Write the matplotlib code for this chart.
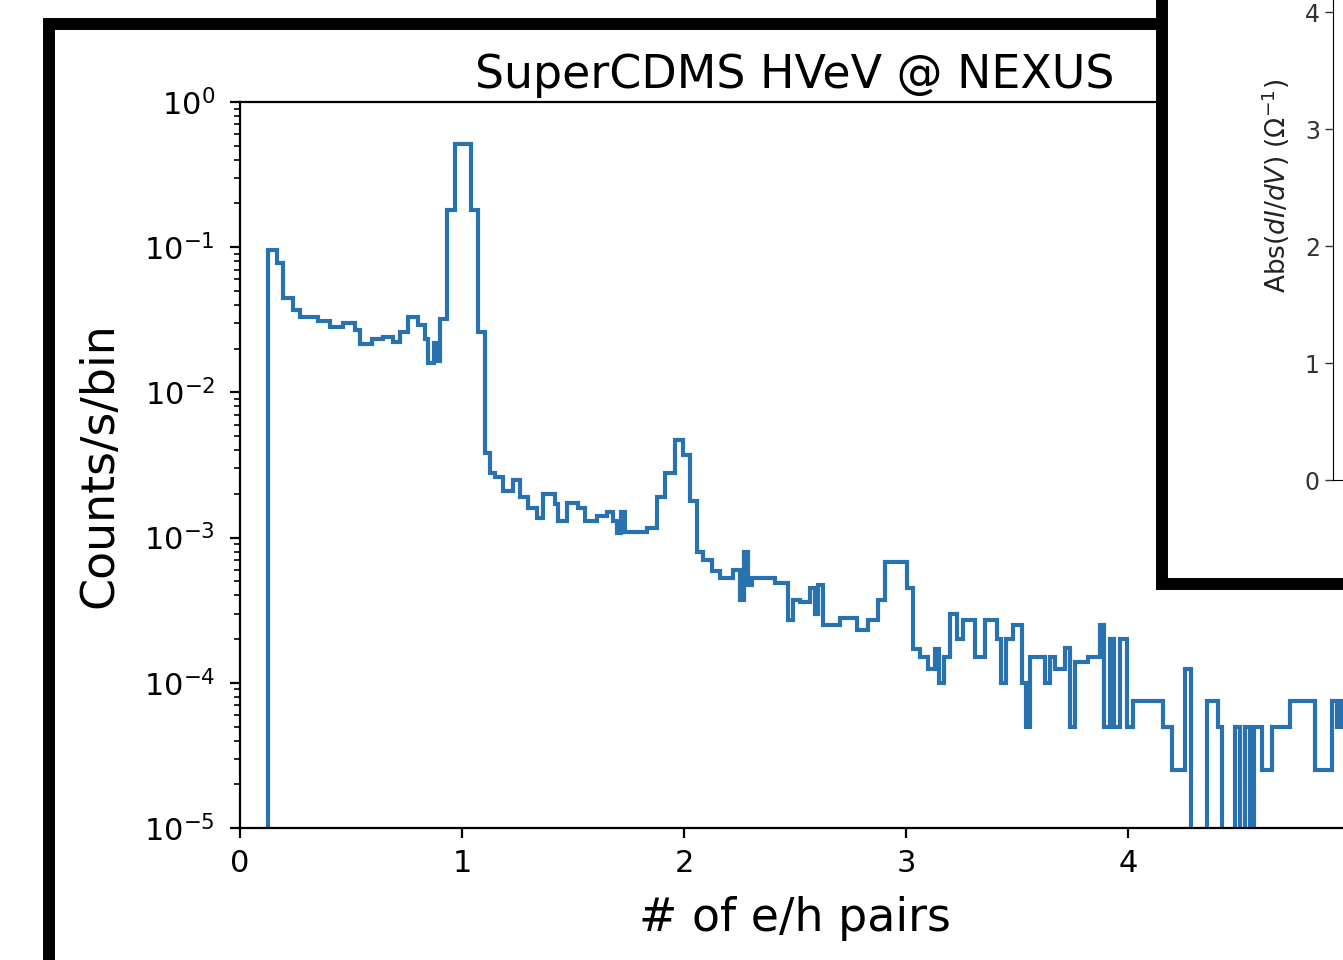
import numpy as np
from matplotlib import pyplot as plt
from matplotlib.patches import Rectangle

# histogram: bin edges (# of e/h pairs) and counts/s/bin
edges = [0.126, 0.167, 0.194, 0.239, 0.270, 0.351, 0.405, 0.464, 0.518, 0.541,
         0.595, 0.644, 0.689, 0.721, 0.757, 0.802, 0.833, 0.847, 0.874, 0.887,
         0.901, 0.932, 0.968, 1.041, 1.072, 1.104, 1.126, 1.149, 1.185, 1.230,
         1.261, 1.297, 1.338, 1.365, 1.419, 1.432, 1.473, 1.523, 1.554, 1.608,
         1.653, 1.680, 1.698, 1.716, 1.734, 1.833, 1.878, 1.914, 1.959, 1.995,
         2.027, 2.059, 2.086, 2.126, 2.162, 2.221, 2.252, 2.270, 2.288, 2.306,
         2.410, 2.468, 2.491, 2.523, 2.568, 2.590, 2.604, 2.626, 2.703, 2.779,
         2.829, 2.874, 2.905, 3.005, 3.032, 3.063, 3.099, 3.131, 3.149, 3.171,
         3.198, 3.230, 3.257, 3.311, 3.356, 3.410, 3.428, 3.450, 3.482, 3.523,
         3.541, 3.559, 3.626, 3.649, 3.671, 3.716, 3.739, 3.761, 3.820, 3.874,
         3.892, 3.919, 3.937, 3.964, 3.995, 4.023, 4.158, 4.198, 4.257, 4.284,
         4.356, 4.405, 4.423, 4.482, 4.505, 4.527, 4.550, 4.568, 4.604, 4.649,
         4.730, 4.842, 4.878, 4.919, 4.941, 4.959, 5.000]
rates = [0.096, 0.078, 0.045, 0.037, 0.033, 0.031, 0.028, 0.030, 0.027, 0.0217,
         0.0233, 0.024, 0.0223, 0.026, 0.033, 0.029, 0.0235, 0.016, 0.022, 0.0165,
         0.032, 0.18, 0.51, 0.18, 0.026, 0.0038, 0.0028, 0.0026, 0.0021, 0.0025,
         0.0019, 0.0016, 0.00137, 0.0020, 0.0017, 0.0013, 0.00173, 0.0016, 0.0013, 0.0014,
         0.0015, 0.0013, 0.00108, 0.0015, 0.0011, 0.00117, 0.0019, 0.0028, 0.0047, 0.0037,
         0.0018, 0.0008, 0.0007, 0.00059, 0.00053, 0.0006, 0.00037, 0.0008, 0.00047, 0.00053,
         0.00049, 0.00027, 0.00037, 0.00036, 0.00045, 0.0003, 0.00047, 0.00025, 0.00028, 0.00023,
         0.00027, 0.00037, 0.00068, 0.00045, 0.00017, 0.00015, 0.000125, 0.00017, 0.0001, 0.00015,
         0.0003, 0.0002, 0.00027, 0.00015, 0.00027, 0.0002, 0.0001, 0.0002, 0.00025, 0.0001,
         0.00005, 0.00015, 0.0001, 0.00015, 0.000125, 0.000175, 0.00005, 0.00014, 0.00015, 0.00025,
         0.00005, 0.0002, 0.00005, 0.0002, 0.00005, 0.000075, 0.00005, 0.000025, 0.000125, 0,
         0.000075, 0.00005, 0, 0.00005, 0, 0.00005, 0, 0.00005, 0.000025, 0.00005,
         0.000075, 0.000025, 0.000025, 0.000075, 0.00005, 0.000075]

x_ticks = [0, 1, 2, 3, 4, 5]
inset_ticks = [0, 1, 2, 3, 4, 5]

W, H = 1343, 960
fig = plt.figure(figsize=(W/100, H/100), dpi=100)
fig.patch.set_facecolor('white')

# main histogram axes (right edge runs off the crop at x=5)
ax = fig.add_axes([240/W, (H-828)/H, (1350-240)/W, (828-102)/H])
ax.stairs(rates, edges, color='#2872b0', lw=3.0, baseline=0)
ax.set_yscale('log')
ax.set_ylim(1e-5, 1)
ax.set_xlim(0, 5)
ax.set_xticks(x_ticks)
ax.set_title("SuperCDMS HVeV @ NEXUS", fontsize=33, pad=10)
ax.set_xlabel("# of e/h pairs", fontsize=33)
ax.set_ylabel("Counts/s/bin", fontsize=33)
ax.xaxis.set_label_coords(0.5, -0.093)
ax.yaxis.set_label_coords(-0.106, 0.5)
ax.tick_params(which='major', labelsize=22, length=7, width=1.6)
ax.tick_params(axis='x', pad=8)
ax.tick_params(axis='y', pad=11)
ax.tick_params(which='minor', length=4, width=1.2)
for s in ax.spines.values():
    s.set_linewidth(1.6)

# black frame of the slide panel
frame = Rectangle((48.5/W, -0.5), 2, 1.5 - 24/H, transform=fig.transFigure,
                  fill=False, ec='black', lw=8.6, zorder=3)
fig.add_artist(frame)

# overlapping inset panel in the top right corner
box = Rectangle((1161.5/W, 1 - 584/H), 2, 2, transform=fig.transFigure,
                fc='white', ec='black', lw=8.6, zorder=5)
fig.add_artist(box)

ins = fig.add_axes([1333/W, 0.5, 200/W, 588/H])
ins.set_zorder(6)
ins.set_ylim(0, 5.03)
ins.set_yticks(inset_ticks)
ins.set_xticks([])
ins.spines['top'].set_visible(False)
ins.spines['right'].set_visible(False)
ins.set_ylabel(r"Abs($dI/dV$) ($\Omega^{-1}$)", fontsize=19, color='#222222')
ins.yaxis.set_label_coords(-0.205, 0.5)
ins.tick_params(labelsize=17, length=6, width=1.0, colors='#333333')

fig.savefig("out.png", dpi=100)
